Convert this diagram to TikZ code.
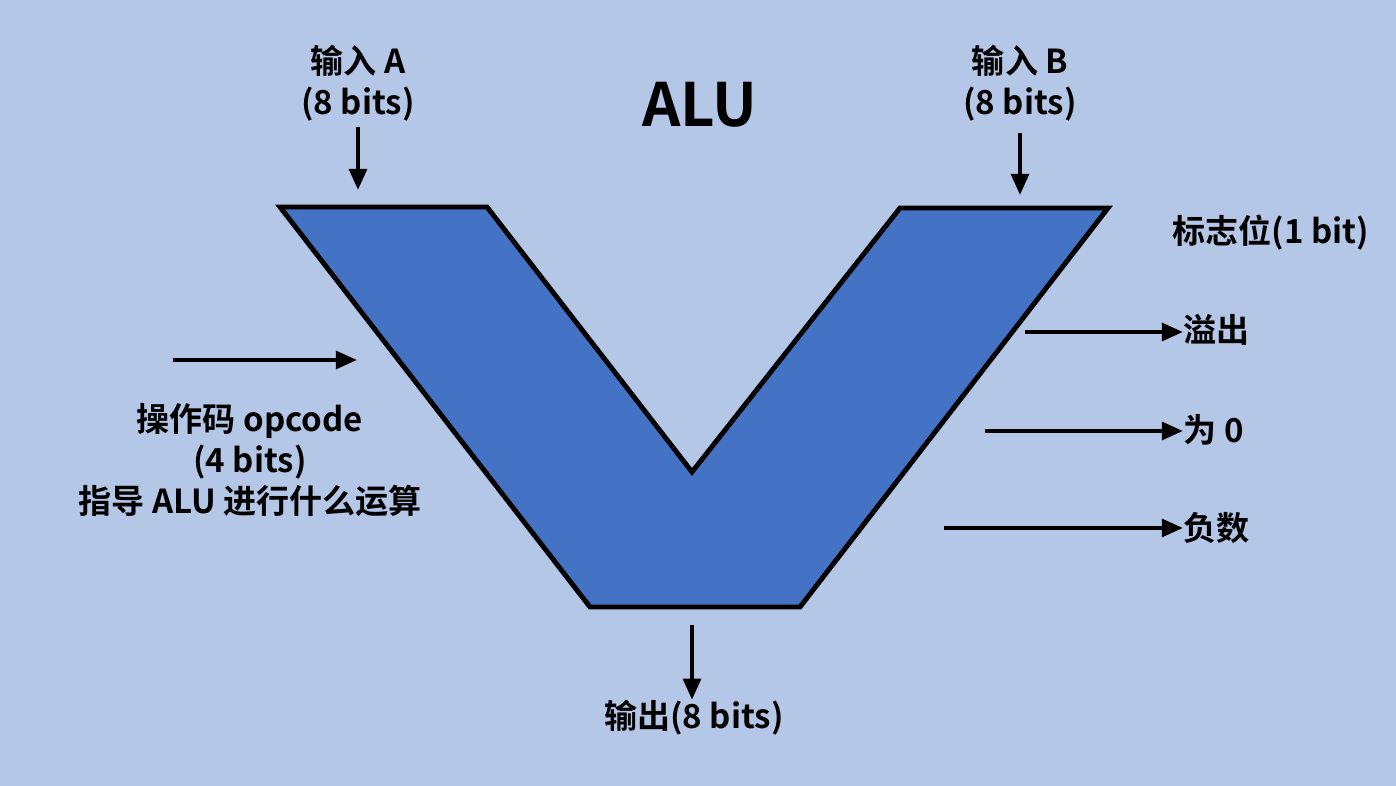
\documentclass[tikz,border=0pt]{standalone}
\usepackage{fontspec}
\usetikzlibrary{arrows.meta}
\newfontfamily\cjk{Noto Sans CJK SC}[BoldFont={Noto Sans CJK SC Bold}]
\begin{document}
\begin{tikzpicture}[x=0.01cm,y=-0.01cm,
  lbl/.style={font=\cjk\bfseries\fontsize{9.4}{11.6}\selectfont,align=center,inner sep=0pt},
  arr/.style={-{Triangle[length=6pt,width=5pt]},line width=1.2pt}]
\fill[fill={rgb,255:red,180;green,199;blue,231}] (0,0) rectangle (1396,786);
\useasboundingbox (0,0) rectangle (1396,786);
\draw[line width=1.4pt,fill={rgb,255:red,68;green,114;blue,196}]
  (280,207)--(487,207)--(692,472)--(900,208)--(1108,208)--(800,607)--(590,607)--cycle;
\node[lbl,font=\cjk\bfseries\fontsize{17}{20}\selectfont] (alu) at (700,105) {ALU};
\node[lbl] (ina) at (358,83) {输入 A\\(8 bits)};
\node[lbl] (inb) at (1020,83) {输入 B\\(8 bits)};
\coordinate (ae) at (358,190); \coordinate (be) at (1020,195);
\draw[arr] (358,127)--(ae);
\draw[arr] (1020,133)--(be);
\node[lbl] (op) at (250,460) {操作码 opcode\\(4 bits)\\指导 ALU 进行什么运算};
\coordinate (os) at (173,360); \coordinate (oe) at (357,360);
\draw[arr] (os)--(oe);
\node[lbl,anchor=west] (flag) at (1172,233) {标志位(1 bit)};
\node[lbl,anchor=west] (of) at (1183,330) {溢出};
\node[lbl,anchor=west] (zr) at (1183,430) {为 0};
\node[lbl,anchor=west] (ng) at (1183,528) {负数};
\coordinate (s1) at (1025,332); \coordinate (s2) at (985,431); \coordinate (s3) at (944,528);
\draw[arr] (s1)--(s1-|of.west);
\draw[arr] (s2)--(s2-|zr.west);
\draw[arr] (s3)--(s3-|ng.west);
\node[lbl] (out) at (694,718) {输出(8 bits)};
\coordinate (o1) at (692,625);
\draw[arr] (o1)--(o1|-out.north);
\end{tikzpicture}
\end{document}
